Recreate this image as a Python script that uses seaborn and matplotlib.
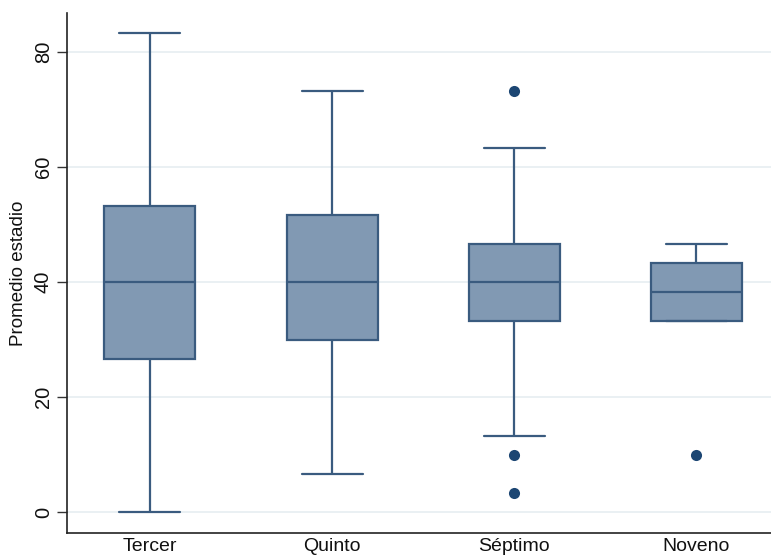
import matplotlib
matplotlib.use("Agg")
import matplotlib.pyplot as plt
import seaborn as sns
import pandas as pd

# valores (resumen de cinco numeros por grado)
grados = ["Tercer", "Quinto", "Séptimo", "Noveno"]
bigote_inf = [0.0, 6.7, 13.3, 33.3]
cuartil_1 = [26.7, 30.0, 33.3, 33.3]
mediana = [40.0, 40.0, 40.0, 38.3]
cuartil_3 = [53.3, 51.7, 46.7, 43.3]
bigote_sup = [83.3, 73.3, 63.3, 46.7]

# valores atipicos
atip_grado = ["Séptimo", "Séptimo", "Séptimo", "Noveno"]
atip_valor = [73.3, 10.0, 3.3, 10.0]

y_ticks = [0, 20, 40, 60, 80]

FILL = "#8199b3"
EDGE = "#3a5b7f"
DOT = "#1c4673"
GRID = "#e6edf1"

rows = []
for i, g in enumerate(grados):
    for v in (bigote_inf[i], cuartil_1[i], mediana[i], cuartil_3[i], bigote_sup[i]):
        rows.append({"grado": g, "valor": v})
df = pd.DataFrame(rows)
df_atip = pd.DataFrame({"grado": atip_grado, "valor": atip_valor})

sns.set_theme(style="white")
plt.rcParams["font.family"] = ["Liberation Sans", "DejaVu Sans"]

fig = plt.figure(figsize=(7.71, 5.6), dpi=100)
ax = fig.add_axes([0.0865, 0.0476, 0.9135, 0.929])

for t in y_ticks:
    ax.axhline(t, color=GRID, lw=1.2, zorder=0)

sns.boxplot(data=df, x="grado", y="valor", order=grados, whis=(0, 100),
            width=0.5, color=FILL, saturation=1, linecolor=EDGE, linewidth=1.6,
            fliersize=0, capwidths=0.335, ax=ax, zorder=2)
sns.stripplot(data=df_atip, x="grado", y="valor", order=grados, jitter=False,
              color=DOT, size=8, linewidth=0, ax=ax, zorder=3)

ax.set_xlim(-0.457, 3.41)
ax.set_ylim(-3.7, 86.8)
ax.set_yticks(y_ticks)
ax.set_xlabel("")
ax.set_ylabel("Promedio estadio", fontsize=13.5, labelpad=5, color="#111111")

ax.tick_params(axis="y", direction="out", length=7, width=1, color="#333333",
               labelsize=14.5, labelrotation=90, left=True, pad=3,
               labelcolor="#111111")
for lab in ax.get_yticklabels():
    lab.set_va("center")
ax.tick_params(axis="x", length=0, labelsize=14, pad=3, labelcolor="#111111")

sns.despine(ax=ax, top=True, right=True)
ax.spines["left"].set_color("#222222")
ax.spines["bottom"].set_color("#222222")
ax.spines["left"].set_linewidth(1.2)
ax.spines["bottom"].set_linewidth(1.2)

fig.savefig("out.png", dpi=100)
